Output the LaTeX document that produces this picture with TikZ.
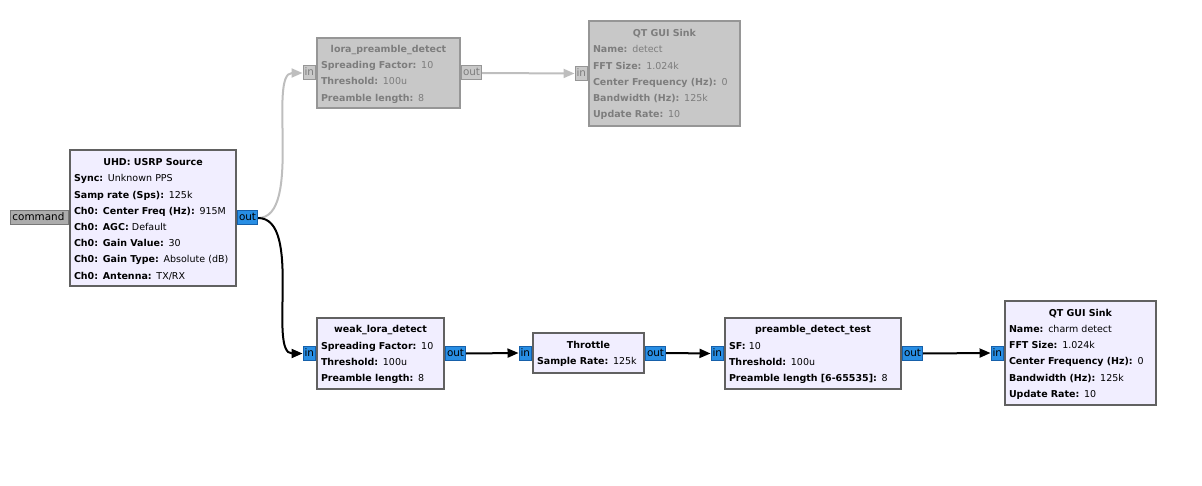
\documentclass[tikz,border=0pt]{standalone}
\usepackage{fontspec}
\setmainfont{DejaVu Sans}
\usetikzlibrary{arrows.meta}
\definecolor{blockfill}{RGB}{241,238,255}
\definecolor{blockline}{RGB}{97,97,97}
\definecolor{portfill}{RGB}{40,142,228}
\definecolor{portline}{RGB}{22,96,170}
\definecolor{offfill}{RGB}{200,200,200}
\definecolor{offline}{RGB}{150,150,150}
\definecolor{offtext}{RGB}{125,125,125}
\definecolor{offwire}{RGB}{190,190,190}
\definecolor{cmdfill}{RGB}{172,172,172}

\newcommand{\kv}[2]{\mbox{\textbf{#1:} #2}}
\newcommand{\ttl}[1]{\rule{0pt}{9.5pt}\makebox[\linewidth]{\textbf{#1}}}

\begin{document}
\begin{tikzpicture}[x=1pt, y=-1pt,
  block/.style={draw=blockline, line width=2pt, fill=blockfill, align=left,
    inner xsep=4pt, inner ysep=0pt, font=\fontsize{9.5}{16.2}\selectfont},
  offblock/.style={block, draw=offline, fill=offfill, text=offtext},
  port/.style={draw=portline, fill=portfill, line width=1pt, inner xsep=1.5pt,
    inner ysep=0pt, minimum height=14pt, text height=8pt, text depth=2pt,
    font=\fontsize{10.4}{12}\selectfont},
  inport/.style={port, anchor=east},
  outport/.style={port, anchor=west},
  offin/.style={inport, draw=offline, fill=offfill, text=offtext},
  offout/.style={outport, draw=offline, fill=offfill, text=offtext},
  cmdport/.style={port, anchor=east, draw=offline!80!black, fill=cmdfill,
    minimum width=58pt, align=left, text width=54pt},
  wire/.style={line width=2pt, -{Triangle[length=11pt,width=9pt]}},
  offwire/.style={wire, draw=offwire}]
\useasboundingbox (0,0) rectangle (1202,486);

\node[block, text width=158pt, minimum height=136pt] (usrp) at (153,218)
  {\ttl{UHD: USRP Source}\\ \kv{Sync}{Unknown PPS}\\ \kv{Samp rate (Sps)}{125k}\\
   \kv{Ch0: Center Freq (Hz)}{915M}\\ \kv{Ch0: AGC}{Default}\\ \kv{Ch0: Gain Value}{30}\\
   \kv{Ch0: Gain Type}{Absolute (dB)}\\ \kv{Ch0: Antenna}{TX/RX}};
\node[cmdport] (usrpcmd) at (usrp.west) {command};
\node[outport] (usrpout) at (usrp.east) {out};

\node[offblock, text width=135pt, minimum height=70pt] (lora) at (388.5,73)
  {\ttl{lora\_preamble\_detect}\\ \kv{Spreading Factor}{10}\\ \kv{Threshold}{100u}\\
   \kv{Preamble length}{8}};
\node[offin] (lorain) at (lora.west) {in};
\node[offout] (loraout) at (lora.east) {out};

\node[offblock, text width=143pt, minimum height=105pt] (sinka) at (664.5,73.5)
  {\ttl{QT GUI Sink}\\ \kv{Name}{detect}\\ \kv{FFT Size}{1.024k}\\
   \kv{Center Frequency (Hz)}{0}\\ \kv{Bandwidth (Hz)}{125k}\\ \kv{Update Rate}{10}};
\node[offin] (sinkain) at (sinka.west) {in};

\node[block, text width=119pt, minimum height=71pt] (weak) at (380.5,353.5)
  {\ttl{weak\_lora\_detect}\\ \kv{Spreading Factor}{10}\\ \kv{Threshold}{100u}\\
   \kv{Preamble length}{8}};
\node[inport] (weakin) at (weak.west) {in};
\node[outport] (weakout) at (weak.east) {out};

\node[block, text width=103pt, minimum height=40pt] (thr) at (588.5,353)
  {\ttl{Throttle}\\ \kv{Sample Rate}{125k}};
\node[inport] (thrin) at (thr.west) {in};
\node[outport] (throut) at (thr.east) {out};

\node[block, text width=168pt, minimum height=71pt] (pdt) at (813,353.5)
  {\ttl{preamble\_detect\_test}\\ \kv{SF}{10}\\ \kv{Threshold}{100u}\\
   \kv{Preamble length [6-65535]}{8}};
\node[inport] (pdtin) at (pdt.west) {in};
\node[outport] (pdtout) at (pdt.east) {out};

\node[block, text width=143pt, minimum height=104pt] (sinkb) at (1080.5,353)
  {\ttl{QT GUI Sink}\\ \kv{Name}{charm detect}\\ \kv{FFT Size}{1.024k}\\
   \kv{Center Frequency (Hz)}{0}\\ \kv{Bandwidth (Hz)}{125k}\\ \kv{Update Rate}{10}};
\node[inport] (sinkbin) at (sinkb.west) {in};

\draw[offwire] (usrpout.east) .. controls +(45,0) and +(-35,0) .. (lorain.west);
\draw[wire] (usrpout.east) .. controls +(45,0) and +(-35,0) .. (weakin.west);
\draw[offwire] (loraout.east) -- (sinkain.west);
\draw[wire] (weakout.east) -- (thrin.west);
\draw[wire] (throut.east) -- (pdtin.west);
\draw[wire] (pdtout.east) -- (sinkbin.west);
\end{tikzpicture}
\end{document}
